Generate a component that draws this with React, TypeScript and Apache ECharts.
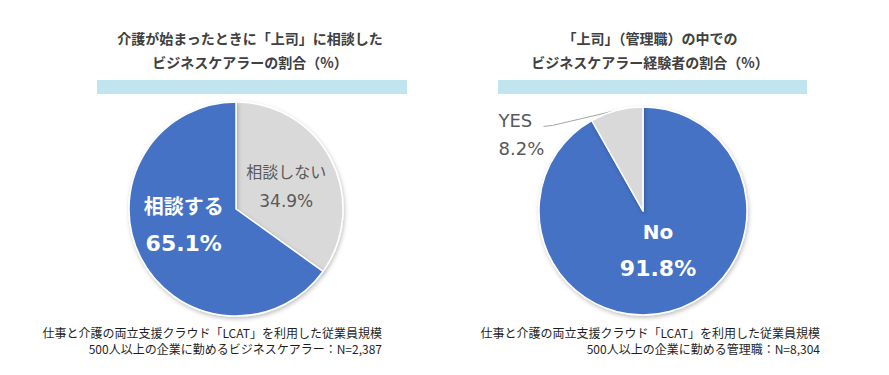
import React, { useEffect, useRef } from "react";
import * as echarts from "echarts";

const leftTitle = "介護が始まったときに「上司」に相談した\nビジネスケアラーの割合（%）";
const rightTitle = "「上司」（管理職）の中での\nビジネスケアラー経験者の割合（%）";
const leftCategories = ["相談しない", "相談する"];
const leftValues = [34.9, 65.1];
const rightCategories = ["No", "YES"];
const rightValues = [91.8, 8.2];
const leftNote =
  "仕事と介護の両立支援クラウド「LCAT」を利用した従業員規模\n500人以上の企業に勤めるビジネスケアラー：N=2,387";
const rightNote =
  "仕事と介護の両立支援クラウド「LCAT」を利用した従業員規模\n500人以上の企業に勤める管理職：N=8,304";

const BLUE = "#4472C4";
const GRAY = "#D9D9D9";
const FONT = "'Noto Sans CJK JP', 'Noto Sans', sans-serif";
const LATIN = "'DejaVu Sans', 'Noto Sans CJK JP', sans-serif";

const fmt = (p: any) => `{n|${p.name}}\n{v|${Number(p.value).toFixed(1)}%}`;

const whiteRich = (lh: number, nameFont: string) => ({
  n: { color: "#fff", fontSize: 20, fontWeight: "bold", lineHeight: lh, fontFamily: nameFont },
  v: { color: "#fff", fontSize: 22, fontWeight: "bold", lineHeight: lh, fontFamily: LATIN },
});
const grayRich = (lh: number, nameFont: string, nameSize: number, valueSize: number) => ({
  n: { color: "#595959", fontSize: nameSize, lineHeight: lh, fontFamily: nameFont },
  v: { color: "#595959", fontSize: valueSize, lineHeight: lh, fontFamily: LATIN },
});

const shadow = {
  borderColor: "#fff",
  borderWidth: 1.5,
  shadowBlur: 4,
  shadowColor: "rgba(0,0,0,0.25)",
  shadowOffsetX: 1,
  shadowOffsetY: 2,
};

export default function App() {
  const ref = useRef<HTMLDivElement>(null);
  useEffect(() => {
    document.body.style.margin = "0";
    const chart = echarts.init(ref.current!, undefined, { renderer: "svg" });
    const leftOffsets = [
      { dx: 0, dy: 3 },
      { dx: -2, dy: -10 },
    ];
    const rightOffsets = [{ dx: 1, dy: -14 }];
    chart.setOption({
      animation: false,
      backgroundColor: "#fff",
      textStyle: { fontFamily: FONT },
      graphic: [
        {
          type: "text",
          x: 250,
          y: 26,
          style: {
            text: leftTitle,
            align: "center",
            verticalAlign: "top",
            fontSize: 14,
            fontWeight: "bold",
            lineHeight: 24,
            fill: "#404040",
            fontFamily: FONT,
          },
        },
        {
          type: "text",
          x: 650,
          y: 26,
          style: {
            text: rightTitle,
            align: "center",
            verticalAlign: "top",
            fontSize: 14,
            fontWeight: "bold",
            lineHeight: 24,
            fill: "#404040",
            fontFamily: FONT,
          },
        },
        { type: "rect", shape: { x: 97, y: 80, width: 310, height: 14 }, style: { fill: "#C0E5EF" } },
        { type: "rect", shape: { x: 498, y: 80, width: 309, height: 14 }, style: { fill: "#C0E5EF" } },
        {
          type: "text",
          x: 382,
          y: 324,
          style: {
            text: leftNote,
            align: "right",
            verticalAlign: "top",
            fontSize: 12,
            lineHeight: 16,
            fill: "#1f1f1f",
            fontFamily: FONT,
          },
        },
        {
          type: "text",
          x: 820,
          y: 324,
          style: {
            text: rightNote,
            align: "right",
            verticalAlign: "top",
            fontSize: 12,
            lineHeight: 16,
            fill: "#1f1f1f",
            fontFamily: FONT,
          },
        },
      ],
      series: [
        {
          type: "pie",
          center: [236, 209],
          radius: 107,
          startAngle: 90,
          clockwise: true,
          avoidLabelOverlap: false,
          itemStyle: shadow,
          label: { show: true, position: "inside", formatter: fmt },
          labelLine: { show: false },
          emphasis: { disabled: true },
          labelLayout: (p: any) => leftOffsets[p.dataIndex] || {},
          data: leftCategories.map((name, i) => ({
            name,
            value: leftValues[i],
            itemStyle: { color: i === 0 ? GRAY : BLUE },
            label: i === 0 ? { rich: grayRich(30, FONT, 16, 17) } : { rich: whiteRich(38, FONT) },
          })),
        },
        {
          type: "pie",
          center: [643, 211],
          radius: 104,
          startAngle: 90,
          clockwise: true,
          avoidLabelOverlap: false,
          itemStyle: shadow,
          label: { show: true, position: "inside", formatter: fmt },
          emphasis: { disabled: true },
          labelLayout: (p: any) => {
            if (p.dataIndex === 1 && p.labelLinePoints) {
              const e = p.labelLinePoints[0];
              return {
                x: e[0] - 118,
                y: e[1] + 24,
                align: "left",
                verticalAlign: "middle",
                labelLinePoints: [
                  [e[0], e[1]],
                  [e[0] - 64, e[1] + 15],
                  [e[0] - 73, e[1] + 16],
                ],
              };
            }
            return rightOffsets[p.dataIndex] || {};
          },
          data: rightCategories.map((name, i) => ({
            name,
            value: rightValues[i],
            itemStyle: { color: i === 0 ? BLUE : GRAY },
            label:
              i === 0
                ? { rich: whiteRich(36, LATIN) }
                : { position: "outside", align: "left", rich: grayRich(28, LATIN, 18, 18) },
            labelLine:
              i === 0
                ? { show: false }
                : { show: true, length: 8, length2: 20, lineStyle: { color: "#A6A6A6", width: 1 } },
          })),
        },
      ],
    });
    return () => chart.dispose();
  }, []);
  return <div ref={ref} style={{ width: 889, height: 375 }} />;
}
